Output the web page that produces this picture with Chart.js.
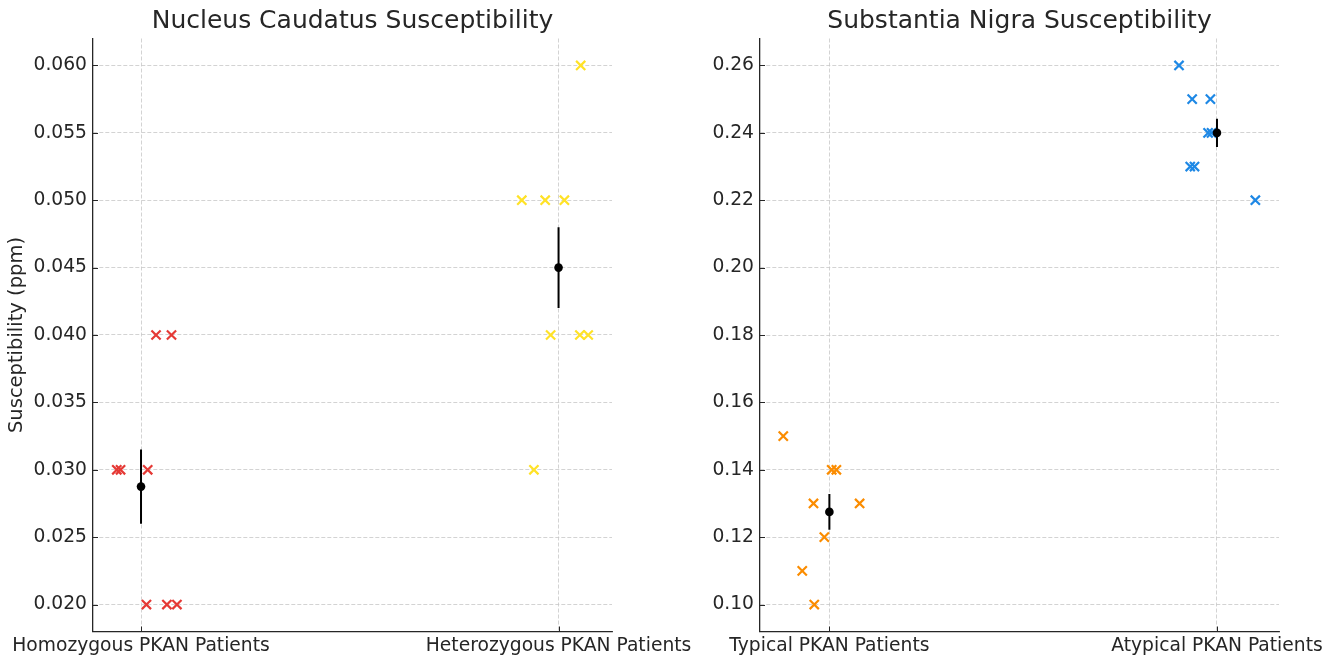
<!DOCTYPE html>
<html>
<head>
<meta charset="utf-8">
<title>PKAN Susceptibility</title>
<script src="https://cdn.jsdelivr.net/npm/chart.js@4.4.1/dist/chart.umd.min.js"></script>
<style>
  html, body { margin: 0; padding: 0; background: #fff; }
  #wrap { position: relative; width: 1338px; height: 660px; overflow: hidden; }
  canvas { position: absolute; top: 0; }
  #ncChart { left: 0; }
  #snChart { left: 700px; }
</style>
</head>
<body>
<div id="wrap">
  <canvas id="ncChart" width="730" height="660"></canvas>
  <canvas id="snChart" width="638" height="660"></canvas>
</div>
<script>
// Nucleus Caudatus panel
const ncCategories = ["Homozygous PKAN Patients", "Heterozygous PKAN Patients"];
const ncHomoJitter = [-0.058, -0.049, 0.016, 0.036, 0.073, 0.013, 0.062, 0.086];
const ncHomoValues = [0.030, 0.030, 0.030, 0.040, 0.040, 0.020, 0.020, 0.020];
const ncHeteroJitter = [0.053, -0.088, -0.032, 0.014, -0.019, 0.051, 0.071, -0.059];
const ncHeteroValues = [0.060, 0.050, 0.050, 0.050, 0.040, 0.040, 0.040, 0.030];
const ncMeans = [0.02875, 0.045];
const ncErrors = [0.00276, 0.003];
const ncYTicks = [0.020, 0.025, 0.030, 0.035, 0.040, 0.045, 0.050, 0.055, 0.060];

// Substantia Nigra panel
const snCategories = ["Typical PKAN Patients", "Atypical PKAN Patients"];
const snTypicalJitter = [-0.119, 0.006, 0.018, -0.041, 0.078, -0.013, -0.070, -0.039];
const snTypicalValues = [0.15, 0.14, 0.14, 0.13, 0.13, 0.12, 0.11, 0.10];
const snAtypicalJitter = [-0.098, -0.064, -0.017, -0.023, -0.014, -0.069, -0.058, 0.099];
const snAtypicalValues = [0.26, 0.25, 0.25, 0.24, 0.24, 0.23, 0.23, 0.22];
const snMeans = [0.1275, 0.24];
const snErrors = [0.0053, 0.0042];
const snYTicks = [0.10, 0.12, 0.14, 0.16, 0.18, 0.20, 0.22, 0.24, 0.26];

const TEXT = "#262626";
const GRID = "#c8c8c8";

Chart.defaults.font.family = "'DejaVu Sans', sans-serif";

// matplotlib-style tick marks pointing into the plot area
const inwardTicks = {
  id: "inwardTicks",
  beforeDatasetsDraw(chart) {
    const { ctx, chartArea, scales } = chart;
    ctx.save();
    ctx.strokeStyle = TEXT;
    ctx.lineWidth = 1;
    ctx.beginPath();
    scales.x.ticks.forEach(t => {
      const px = Math.round(scales.x.getPixelForValue(t.value)) + 0.5;
      ctx.moveTo(px, chartArea.bottom);
      ctx.lineTo(px, chartArea.bottom - 5);
    });
    scales.y.ticks.forEach(t => {
      const py = Math.round(scales.y.getPixelForValue(t.value)) + 0.5;
      ctx.moveTo(chartArea.left, py);
      ctx.lineTo(chartArea.left + 5, py);
    });
    ctx.stroke();
    ctx.restore();
  }
};

function jittered(catIndex, jitter, values) {
  return values.map((v, i) => ({ x: catIndex + jitter[i], y: v }));
}

function markerSet(data, color) {
  return {
    data,
    pointStyle: "crossRot",
    pointRadius: 6.5,
    borderColor: color,
    borderWidth: 2.2,
    order: 2
  };
}

function buildPanel(canvasId, p) {
  const datasets = [
    markerSet(jittered(0, p.jitterA, p.valuesA), p.colorA),
    markerSet(jittered(1, p.jitterB, p.valuesB), p.colorB)
  ];
  p.means.forEach((m, i) => {
    datasets.push({
      data: [{ x: i, y: m - p.errors[i] }, { x: i, y: m + p.errors[i] }],
      showLine: true,
      pointRadius: 0,
      borderColor: "#000",
      borderWidth: 2,
      order: 1
    });
  });
  datasets.push({
    data: p.means.map((m, i) => ({ x: i, y: m })),
    pointStyle: "circle",
    pointRadius: 4.3,
    backgroundColor: "#000",
    borderWidth: 0,
    order: 0
  });

  const gridOpts = { color: GRID, lineWidth: 0.8, drawTicks: false };
  const borderOpts = { display: true, color: TEXT, width: 1.3, dash: [4, 2] };

  return new Chart(document.getElementById(canvasId), {
    type: "scatter",
    data: { datasets },
    options: {
      responsive: false,
      devicePixelRatio: 1,
      animation: false,
      events: [],
      layout: { padding: { left: 0, top: 0, right: p.padRight, bottom: 0 } },
      plugins: {
        legend: { display: false },
        tooltip: { enabled: false },
        title: {
          display: true,
          text: p.title,
          fullSize: false,
          color: TEXT,
          font: { size: 25, weight: "normal" },
          padding: { top: 6, bottom: 2.5 }
        }
      },
      scales: {
        x: {
          type: "linear",
          min: p.xMin,
          max: p.xMax,
          afterBuildTicks: s => { s.ticks = p.categories.map((c, i) => ({ value: i })); },
          afterFit: s => { s.height = 28.5; },
          ticks: {
            color: TEXT,
            font: { size: 18.7 },
            padding: 3,
            maxRotation: 0,
            autoSkip: false,
            callback: v => p.categories[v]
          },
          grid: gridOpts,
          border: borderOpts
        },
        y: {
          type: "linear",
          min: p.yMin,
          max: p.yMax,
          afterBuildTicks: s => { s.ticks = p.yTicks.map(v => ({ value: v })); },
          afterFit: s => { s.width = p.axisWidth; },
          ticks: {
            color: TEXT,
            font: { size: 18.7 },
            padding: 6,
            callback: v => v.toFixed(p.decimals)
          },
          grid: gridOpts,
          border: borderOpts,
          title: {
            display: !!p.yTitle,
            text: p.yTitle || "",
            color: TEXT,
            font: { size: 19.5 },
            padding: { top: 5, bottom: 0 }
          }
        }
      }
    },
    plugins: [inwardTicks]
  });
}

buildPanel("ncChart", {
  title: "Nucleus Caudatus Susceptibility",
  categories: ncCategories,
  jitterA: ncHomoJitter, valuesA: ncHomoValues, colorA: "#E53935",
  jitterB: ncHeteroJitter, valuesB: ncHeteroValues, colorB: "#FFE227",
  means: ncMeans, errors: ncErrors,
  yTicks: ncYTicks, decimals: 3,
  yMin: 0.018, yMax: 0.062,
  xMin: -0.115, xMax: 1.128,
  yTitle: "Susceptibility (ppm)",
  axisWidth: 93, padRight: 118
});

buildPanel("snChart", {
  title: "Substantia Nigra Susceptibility",
  categories: snCategories,
  jitterA: snTypicalJitter, valuesA: snTypicalValues, colorA: "#FB8C00",
  jitterB: snAtypicalJitter, valuesB: snAtypicalValues, colorB: "#1E88E5",
  means: snMeans, errors: snErrors,
  yTicks: snYTicks, decimals: 2,
  yMin: 0.092, yMax: 0.268,
  xMin: -0.179, xMax: 1.160,
  yTitle: null,
  axisWidth: 60, padRight: 59
});
</script>
</body>
</html>
